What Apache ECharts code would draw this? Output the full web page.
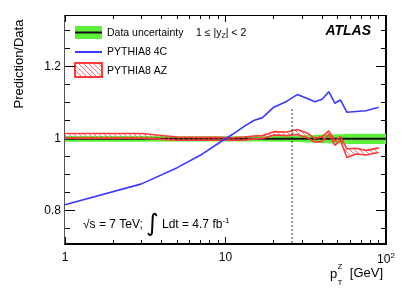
<!DOCTYPE html>
<html><head><meta charset="utf-8">
<script src="https://cdn.jsdelivr.net/npm/echarts@6/dist/echarts.min.js"></script>
<style>html,body{margin:0;padding:0;background:#fff}#c{width:407px;height:292px}</style>
</head><body><div id="c"></div>
<script>
// ---- data ----
const ptBins   = [1,3,5,7,9,11,13,15,17,20,24,28,32,36,40,44,48,52,57,65,75,90];
const pythia4C = [0.817,0.875,0.920,0.955,0.987,1.012,1.034,1.051,1.059,1.088,1.104,1.123,1.113,1.103,1.110,1.131,1.099,1.108,1.074,1.076,1.078,1.088];
const pythiaAZLow  = [1.002,1.002,0.996,0.996,0.996,0.996,0.996,1.000,1.001,1.011,1.009,1.012,1.004,0.991,0.993,1.012,0.982,0.996,0.948,0.958,0.955,0.962];
const pythiaAZHigh = [1.015,1.015,1.005,1.004,1.004,1.003,1.005,1.008,1.009,1.020,1.019,1.026,1.017,1.002,1.006,1.022,0.994,1.006,0.972,0.974,0.968,0.975];
const dataX   = [1,3,5,7,9,11,13,15,17,20,24,28,32,36,40,44,48,52,57,65,75,90,100];
const dataUnc = [0.008,0.008,0.007,0.007,0.007,0.007,0.007,0.007,0.007,0.008,0.008,0.009,0.010,0.011,0.012,0.012,0.013,0.013,0.014,0.014,0.014,0.014,0.014];
const dataRatio = 1.0;
const cutPt = 26, cutTop = 1.083;
const xMajorTicks = [1,10,100];
const xMinorTicks = [2,3,4,5,6,7,8,9,20,30,40,50,60,70,80,90];
const yMajorTicks = [0.8,1.0,1.2];
const yMinorTicks = [0.75,0.85,0.9,0.95,1.05,1.1,1.15,1.25,1.3];
const xMin = 1, xMax = 100, yMin = 0.708, yMax = 1.344;

// ---- layout / styles ----
const G = {left:65, right:21, top:15, bottom:48, W:407, H:292};
const plotW = G.W - G.left - G.right, plotH = G.H - G.top - G.bottom;
const GREEN = '#5ef03a', RED = '#ff3b3b', BLUE = '#3a3aff';
const FONT = 'Liberation Sans, Arial, Helvetica, sans-serif';
function hatch(){
  const c=document.createElement('canvas'); c.width=5; c.height=5;
  const g=c.getContext('2d'); g.strokeStyle='rgba(255,80,80,0.85)'; g.lineWidth=1;
  g.beginPath(); g.moveTo(0,0); g.lineTo(5,5); g.moveTo(-1,4); g.lineTo(1,6); g.moveTo(4,-1); g.lineTo(6,1); g.stroke();
  return c;
}
const hatchPat = {image: hatch(), repeat: 'repeat'};

function bandSeries(xs, lo, hi, fill, z){
  return {
    type:'custom', z:z, silent:true,
    data: xs.map((x,i)=>[x, lo[i], hi[i]]),
    encode:{x:0, y:[1,2]},
    renderItem:(params, api)=>{
      if (params.dataIndexInside !== 0) return null;
      const n = params.dataInsideLength, top=[], bot=[];
      for (let i=0;i<n;i++){
        const x=api.value(0,i);
        top.push(api.coord([x, api.value(2,i)]));
        bot.push(api.coord([x, api.value(1,i)]));
      }
      return {type:'polygon', shape:{points: top.concat(bot.reverse())}, style:{fill: fill, stroke:'none'}};
    }
  };
}

// axis frame + mirrored inside ticks, as graphic fills placed with the same log / linear mapping as the grid
const X = v => G.left + Math.log10(v / xMin) / Math.log10(xMax / xMin) * plotW;
const Y = v => G.top + (yMax - v) / (yMax - yMin) * plotH;
const L = G.left, R = G.left + plotW, T = G.top, B = G.top + plotH;
const axisGfx = [
  {type:'rect', shape:{x:L, y:T, width:R-L, height:1}, style:{fill:'#000'}},
  {type:'rect', shape:{x:R-1, y:T, width:2, height:B-T}, style:{fill:'#000'}},
  {type:'rect', shape:{x:L-1, y:B-1, width:R-L+2, height:2}, style:{fill:'#000'}},
  {type:'rect', shape:{x:L-1, y:T, width:1, height:B-T}, style:{fill:'#555'}}
];
function xTick(v, len){ const x = Math.floor(X(v));
  axisGfx.push({type:'rect', shape:{x:x, y:B-len, width:1, height:len}, style:{fill:'#000'}});
  axisGfx.push({type:'rect', shape:{x:x, y:T, width:1, height:len}, style:{fill:'#000'}}); }
function yTick(v, len){ const y = Math.floor(Y(v));
  axisGfx.push({type:'rect', shape:{x:L, y:y, width:len, height:1}, style:{fill:'#000'}});
  axisGfx.push({type:'rect', shape:{x:R-len, y:y, width:len, height:1}, style:{fill:'#000'}}); }
xMajorTicks.forEach(v=>xTick(v,7)); xMinorTicks.forEach(v=>xTick(v,4));
yMajorTicks.forEach(v=>yTick(v,10)); yMinorTicks.forEach(v=>yTick(v,5));

const chart = echarts.init(document.getElementById('c'), null, {renderer:'canvas'});
chart.setOption({
  animation:false,
  backgroundColor:'#fff',
  grid:{left:G.left, right:G.right, top:G.top, bottom:G.bottom, containLabel:false},
  xAxis:[{type:'log', logBase:10, min:xMin, max:xMax,
    axisLine:{show:false}, splitLine:{show:false}, minorTick:{show:false}, axisTick:{show:false},
    axisLabel:{show:true, margin:8, color:'#000', fontFamily:FONT, fontSize:12,
      formatter:v=> v>=100 ? '{n|10}{s|2}' : '{n|'+v+'}',
      rich:{n:{fontSize:12, fontFamily:FONT, color:'#000'}, s:{fontSize:8, fontFamily:FONT, color:'#000', padding:[0,0,8,0]}}}}],
  yAxis:[{type:'value', min:yMin, max:yMax, splitNumber:3,
    axisLine:{show:false}, splitLine:{show:false}, axisTick:{show:false},
    axisLabel:{show:true, showMinLabel:false, showMaxLabel:false, margin:4, color:'#000', fontFamily:FONT, fontSize:12,
      formatter:v=> (yMajorTicks.some(t=>Math.abs(t-v)<1e-6) ? (Math.abs(v-1)<1e-9 ? '1' : String(+v.toFixed(1))) : '')}}],
  series:[
    bandSeries(dataX, dataUnc.map(u=>dataRatio-u), dataUnc.map(u=>dataRatio+u), GREEN, 1),
    {type:'line', z:2, silent:true, symbol:'none', data:dataX.map(x=>[x,dataRatio]), lineStyle:{color:'#111', width:2}},
    bandSeries(ptBins, pythiaAZLow, pythiaAZHigh, hatchPat, 3),
    {type:'line', z:4, silent:true, symbol:'none', data:ptBins.map((x,i)=>[x,pythiaAZHigh[i]]), lineStyle:{color:RED, width:1.6}},
    {type:'line', z:4, silent:true, symbol:'none', data:ptBins.map((x,i)=>[x,pythiaAZLow[i]]), lineStyle:{color:RED, width:1.6}},
    {type:'line', z:5, silent:true, symbol:'none', data:ptBins.map((x,i)=>[x,pythia4C[i]]), lineStyle:{color:BLUE, width:1.6}},
    {type:'line', z:6, silent:true, symbol:'none', data:[[cutPt,cutTop],[cutPt,yMin]], lineStyle:{color:'#000', width:0.8, type:[2,2]}}
  ],
  graphic:[
    // legend
    {type:'rect', shape:{x:75,y:26,width:27,height:13}, style:{fill:GREEN}},
    {type:'line', shape:{x1:75,y1:32.5,x2:102,y2:32.5}, style:{stroke:'#111', lineWidth:2}},
    {type:'line', shape:{x1:75,y1:52,x2:102,y2:52}, style:{stroke:BLUE, lineWidth:2}},
    {type:'rect', shape:{x:75,y:63,width:27,height:14}, style:{fill:hatchPat, stroke:RED, lineWidth:2}},
    {type:'text', x:107, y:33, style:{text:'Data uncertainty', fontFamily:FONT, fontSize:10.5, fill:'#000', verticalAlign:'middle'}},
    {type:'text', x:196, y:33, style:{text:'1 ≤ |y{sub|Z}| < 2', fontFamily:FONT, fontSize:10.5, fill:'#000', verticalAlign:'middle',
       rich:{sub:{fontSize:7, fontFamily:FONT, fill:'#000', padding:[6,0,0,0]}}}},
    {type:'text', x:107, y:52, style:{text:'PYTHIA8 4C', fontFamily:FONT, fontSize:10.5, fill:'#000', verticalAlign:'middle'}},
    {type:'text', x:107, y:71, style:{text:'PYTHIA8 AZ', fontFamily:FONT, fontSize:10.5, fill:'#000', verticalAlign:'middle'}},
    {type:'text', x:371, y:31, style:{text:'ATLAS', fontFamily:FONT, fontSize:14, fontWeight:'bold', fontStyle:'italic', fill:'#000', align:'right', verticalAlign:'middle'}},
    // energy / lumi
    {type:'text', x:83, y:225, style:{text:'{a|√s = 7 TeV;} {i|∫} {a|Ldt = 4.7 fb}{p|-1}', fontFamily:FONT, fontSize:12, fill:'#000', verticalAlign:'middle',
       rich:{a:{fontSize:12, fontFamily:FONT, fill:'#000'}, i:{fontSize:24, fontFamily:'DejaVu Sans', fill:'#000'}, p:{fontSize:8, fontFamily:FONT, fill:'#000', padding:[0,0,9,0]}}}},
    // axis titles
    {type:'text', x:19, y:64, rotation:Math.PI/2, style:{text:'Prediction/Data', fontFamily:FONT, fontSize:13, fill:'#000', align:'center', verticalAlign:'middle'}},
    {type:'text', x:330, y:274, style:{text:'p', fontFamily:FONT, fontSize:13, fill:'#000', verticalAlign:'middle'}},
    {type:'text', x:337.5, y:267, style:{text:'Z', fontFamily:FONT, fontSize:8, fill:'#000', verticalAlign:'middle'}},
    {type:'text', x:337.5, y:283, style:{text:'T', fontFamily:FONT, fontSize:8, fill:'#000', verticalAlign:'middle'}},
    {type:'text', x:383, y:273, style:{text:'[GeV]', fontFamily:FONT, fontSize:13, fill:'#000', align:'right', verticalAlign:'middle'}}
  ].concat(axisGfx)
});
</script></body></html>
